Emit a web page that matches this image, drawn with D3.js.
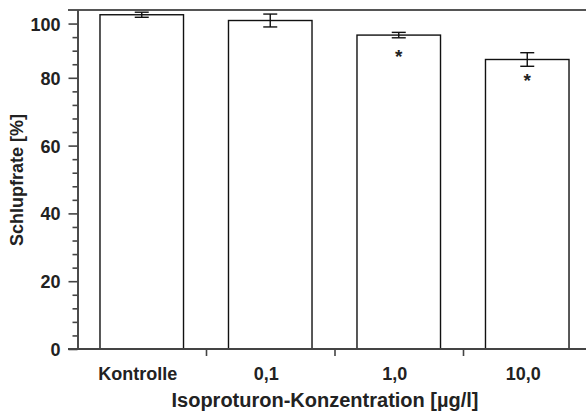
<!DOCTYPE html>
<html>
<head>
<meta charset="utf-8">
<script src="https://cdn.jsdelivr.net/npm/d3@7"></script>
<style>
  body { margin: 0; background: #fff; }
  text { font-family: "Liberation Sans", Arial, sans-serif; font-weight: bold; fill: #222; }
  .axis path, .axis line { stroke: #444; stroke-width: 1.6; }
</style>
</head>
<body>
<div class="app"></div>
<script>
// Data
var categories = ["Kontrolle", "0,1", "1,0", "10,0"];
var means = [98.6, 96.9, 92.6, 85.4];
var errors = [0.75, 1.9, 0.8, 2.0];
var significant = [false, false, true, true];
var yTickValues = [0, 20, 40, 60, 80, 96];
var yTickLabels = ["0", "20", "40", "60", "80", "100"];

var W = 586, H = 414;
var svg = d3.select(".app").append("svg")
    .attr("width", W)
    .attr("height", H);

// scales
var y = d3.scaleLinear().domain([0, 100]).range([349, 10]);
var x = d3.scaleBand().domain(categories).range([77.5, 591.5]).padding(0);
var xl = d3.scaleLinear().domain([0, categories.length]).range([77.5, 591.5]);
var barW = x.bandwidth() * 0.65;

// top frame line and bottom axis line
svg.append("line")
    .attr("x1", 68).attr("x2", W).attr("y1", y(100)).attr("y2", y(100))
    .attr("stroke", "#555").attr("stroke-width", 2.2);

// bars
svg.append("g").selectAll("rect")
    .data(categories)
    .enter()
    .append("rect")
    .attr("x", function(d){ return x(d) + (x.bandwidth() - barW) / 2; })
    .attr("y", function(d, i){ return y(means[i]); })
    .attr("width", barW)
    .attr("height", function(d, i){ return y(0) - y(means[i]); })
    .attr("fill", "#fff")
    .attr("stroke", "#111")
    .attr("stroke-width", 1.4);

// error bars
var eb = svg.append("g").selectAll("g")
    .data(categories)
    .enter()
    .append("g")
    .attr("transform", function(d){ return "translate(" + (x(d) + x.bandwidth() / 2) + ",0)"; });

eb.append("line")
    .attr("y1", function(d, i){ return y(means[i] + errors[i]); })
    .attr("y2", function(d, i){ return y(means[i] - errors[i]); })
    .attr("stroke", "#111").attr("stroke-width", 1.4);
eb.append("line")
    .attr("x1", -7).attr("x2", 7)
    .attr("y1", function(d, i){ return y(means[i] + errors[i]); })
    .attr("y2", function(d, i){ return y(means[i] + errors[i]); })
    .attr("stroke", "#111").attr("stroke-width", 1.4);
eb.append("line")
    .attr("x1", -7).attr("x2", 7)
    .attr("y1", function(d, i){ return y(means[i] - errors[i]); })
    .attr("y2", function(d, i){ return y(means[i] - errors[i]); })
    .attr("stroke", "#111").attr("stroke-width", 1.4);

// significance stars
eb.filter(function(d, i){ return significant[i]; })
    .append("text")
    .attr("text-anchor", "middle")
    .attr("y", function(d){ return y(means[categories.indexOf(d)]) + 28; })
    .style("font-size", "19px")
    .text("*");

// y axis: minor then major ticks
var minorTicks = d3.range(4, 100, 4).filter(function(v){ return yTickValues.indexOf(v) < 0; });
svg.append("g")
    .attr("class", "axis")
    .attr("transform", "translate(77.5,0)")
    .call(d3.axisLeft(y).tickValues(minorTicks).tickSize(5).tickSizeOuter(0).tickFormat(""));

var yAxis = svg.append("g")
    .attr("class", "axis")
    .attr("transform", "translate(77.5,0)")
    .call(d3.axisLeft(y).tickValues(yTickValues).tickSize(9).tickSizeOuter(0)
        .tickFormat(function(d, i){ return yTickLabels[i]; }));
yAxis.selectAll("text")
    .attr("x", -17)
    .attr("dy", "0.36em")
    .style("font-size", "18px")
    .style("font-family", "Liberation Sans, Arial, sans-serif")
    .style("fill", "#222");

// x axis
svg.append("line")
    .attr("x1", 68).attr("x2", W).attr("y1", y(0)).attr("y2", y(0))
    .attr("stroke", "#444").attr("stroke-width", 1.8);
var xAxis = svg.append("g")
    .attr("class", "axis")
    .attr("transform", "translate(0," + y(0) + ")")
    .call(d3.axisBottom(xl).tickValues(d3.range(1, categories.length)).tickSize(7).tickSizeOuter(0).tickFormat(""));
xAxis.select(".domain").remove();

svg.append("g").selectAll("text")
    .data(categories)
    .enter()
    .append("text")
    .attr("x", function(d){ return x(d) + x.bandwidth() / 2 - 4; })
    .attr("y", 380)
    .attr("text-anchor", "middle")
    .style("font-size", "18px")
    .text(function(d){ return d; });

// axis titles
svg.append("text")
    .attr("x", 325)
    .attr("y", 407)
    .attr("text-anchor", "middle")
    .style("font-size", "20px")
    .text("Isoproturon-Konzentration [µg/l]");

svg.append("text")
    .attr("transform", "translate(23,180) rotate(-90)")
    .attr("text-anchor", "middle")
    .style("font-size", "18px")
    .text("Schlupfrate [%]");
</script>
</body>
</html>
